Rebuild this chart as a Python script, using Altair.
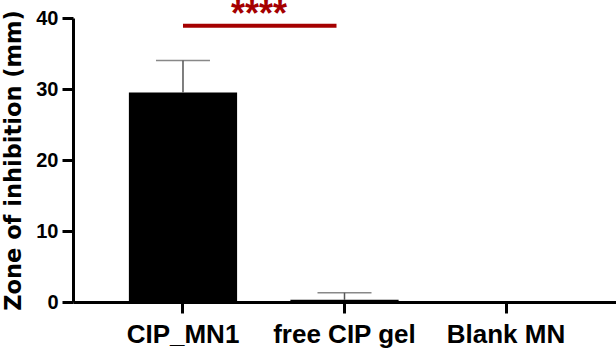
import altair as alt
import pandas as pd

categories = ["CIP_MN1", "free CIP gel", "Blank MN"]
means = [29.5, 0.3, 0.0]
sds = [4.5, 1.0, 0.0]

sig_from = ["CIP_MN1"]
sig_to = ["free CIP gel"]
sig_y = [38.9]
sig_label = ["****"]

df = pd.DataFrame({"cat": categories, "mean": means, "sd": sds})
df["upper"] = df["mean"] + df["sd"]
err = df[df["sd"] > 0]
sig = pd.DataFrame({"a": sig_from, "b": sig_to, "y": sig_y, "label": sig_label})

FONT = "Liberation Sans"

xscale = alt.Scale(domain=categories, paddingInner=0.33, paddingOuter=0.346)
yscale = alt.Scale(domain=[0, 40], nice=False)

xaxis = alt.Axis(title=None, labelAngle=0, labelFontSize=26, labelPadding=8)
yaxis = alt.Axis(title="Zone of inhibition (mm)", values=[0, 10, 20, 30, 40],
                 labelFontSize=20, titleFontSize=22.5, titleFont="DejaVu Sans",
                 labelPadding=4, titlePadding=10)

bars = alt.Chart(df).mark_bar(color="black").encode(
    x=alt.X("cat:N", scale=xscale, axis=xaxis, sort=categories),
    y=alt.Y("mean:Q", scale=yscale, axis=yaxis),
)

err_rule = alt.Chart(err).mark_rule(color="#555555", strokeWidth=1.5).encode(
    x=alt.X("cat:N", scale=xscale, sort=categories),
    y="mean:Q",
    y2="upper:Q",
)

err_cap = alt.Chart(err).mark_tick(color="#555555", thickness=1.5, size=54).encode(
    x=alt.X("cat:N", scale=xscale, sort=categories),
    y=alt.Y("upper:Q", scale=yscale),
)

sig_rule = alt.Chart(sig).mark_rule(color="#a50000", strokeWidth=4, x2Offset=-8).encode(
    x=alt.X("a:N", scale=xscale, sort=categories),
    x2="b:N",
    y=alt.Y("y:Q", scale=yscale),
)

sig_text = alt.Chart(sig).mark_text(color="#a50000", fontSize=36, fontWeight="bold",
                                    font=FONT, dx=76, dy=0, baseline="alphabetic").encode(
    x=alt.X("a:N", scale=xscale, sort=categories),
    y=alt.Y("y:Q", scale=yscale),
    text="label:N",
)

chart = alt.layer(bars, err_rule, err_cap, sig_rule, sig_text).properties(
    width=543, height=284,
    padding={"left": 73, "top": 18, "right": 0, "bottom": 49},
    autosize=alt.AutoSizeParams(type="none"),
).configure_view(stroke=None).configure_axis(
    grid=False,
    domainColor="black", domainWidth=3,
    tickColor="black", tickWidth=3, tickSize=11,
    labelFont=FONT, labelFontWeight="bold", labelColor="black",
    titleFont=FONT, titleFontWeight="bold", titleColor="black",
)

chart.save("out.html", embed_options={"renderer": "svg", "actions": False})
